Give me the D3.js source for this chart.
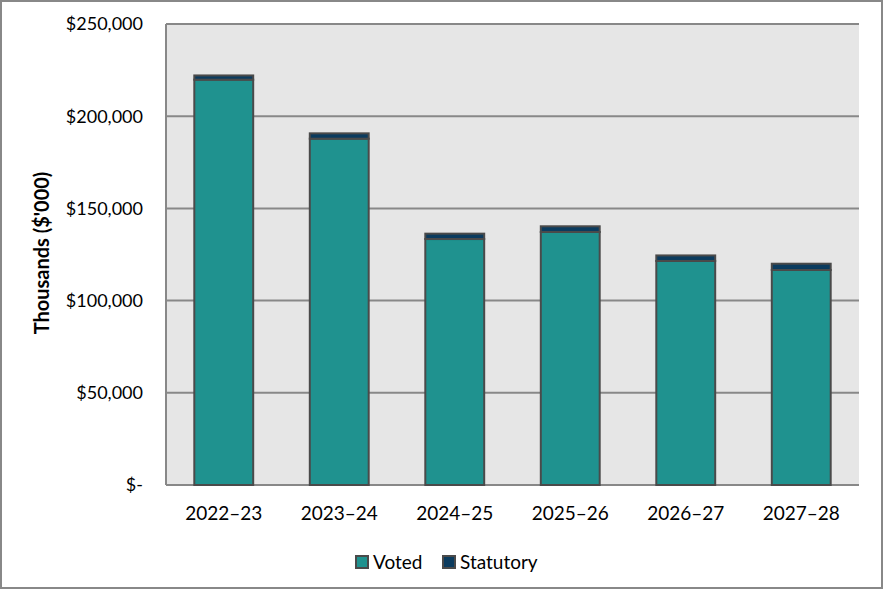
<!DOCTYPE html>
<html>
<head>
<meta charset="utf-8">
<script src="https://cdn.jsdelivr.net/npm/d3@7"></script>
<style>
  body { margin: 0; background: #fff; }
  svg { display: block; font-family: Lato, "Open Sans", sans-serif; }
</style>
</head>
<body>
<script>
// chart data
var years = ["2022–23", "2023–24", "2024–25", "2025–26", "2026–27", "2027–28"];
var voted = [219800, 187800, 133400, 137200, 121500, 116600];
var statutory = [2300, 2900, 2900, 3100, 3000, 3400];
var yTicks = [0, 50000, 100000, 150000, 200000, 250000];
var seriesNames = ["Voted", "Statutory"];
var colors = ["#1f928f", "#0b3b5e"];

var W = 883, H = 589;
var margin = {top: 24, right: 24, bottom: 104, left: 166};
var width = W - margin.left - margin.right,
    height = H - margin.top - margin.bottom;

var svg = d3.select("body").append("svg")
  .attr("width", W)
  .attr("height", H);

// outer frame
svg.append("rect")
  .attr("x", 1).attr("y", 1)
  .attr("width", W - 2).attr("height", H - 2)
  .attr("fill", "#fff")
  .attr("stroke", "#888").attr("stroke-width", 2);

var g = svg.append("g")
  .attr("transform", "translate(" + margin.left + "," + margin.top + ")");

var x = d3.scaleBand().domain(years).range([0, width]).paddingInner(0.49).paddingOuter(0.245);
var y = d3.scaleLinear().domain([0, 250000]).range([height, 0]);

// plot background
g.append("rect")
  .attr("width", width).attr("height", height)
  .attr("fill", "#e6e6e6");

// gridlines
g.selectAll(".grid").data(yTicks).enter().append("line")
  .attr("x1", 0).attr("x2", width)
  .attr("y1", function(d) { return y(d); })
  .attr("y2", function(d) { return y(d); })
  .attr("stroke", "#888").attr("stroke-width", 2);

// left axis line
g.append("line")
  .attr("x1", 0).attr("x2", 0).attr("y1", 0).attr("y2", height)
  .attr("stroke", "#888").attr("stroke-width", 2);

// stacked bars
var rows = years.map(function(yr, i) { return {year: yr, Voted: voted[i], Statutory: statutory[i]}; });
var stack = d3.stack().keys(seriesNames)(rows);

g.selectAll(".series").data(stack).enter().append("g")
  .attr("fill", function(d, i) { return colors[i]; })
  .selectAll("rect").data(function(d) { return d; }).enter().append("rect")
  .attr("x", function(d) { return x(d.data.year); })
  .attr("width", x.bandwidth())
  .attr("y", function(d) { return y(d[1]); })
  .attr("height", function(d) { return y(d[0]) - y(d[1]); })
  .attr("stroke", "#4a4a4a").attr("stroke-width", 2);

// y axis labels
g.selectAll(".ylab").data(yTicks).enter().append("text")
  .attr("x", -23)
  .attr("y", function(d) { return y(d); })
  .attr("dy", "0.35em")
  .attr("text-anchor", "end")
  .attr("font-size", 18)
  .attr("fill", "#000")
  .text(function(d) { return d === 0 ? "$-" : "$" + d3.format(",")(d); });

// x axis labels
g.selectAll(".xlab").data(years).enter().append("text")
  .attr("x", function(d) { return x(d) + x.bandwidth() / 2; })
  .attr("y", height + 35)
  .attr("text-anchor", "middle")
  .attr("font-size", 19)
  .attr("fill", "#000")
  .text(function(d) { return d; });

// y title
svg.append("text")
  .attr("transform", "translate(49,253) rotate(-90)")
  .attr("text-anchor", "middle")
  .attr("font-size", 20)
  .attr("font-weight", "bold")
  .attr("fill", "#000")
  .text("Thousands ($'000)");

// legend
var legX = [356, 443];
var leg = svg.selectAll(".leg").data(seriesNames).enter().append("g")
  .attr("transform", function(d, i) { return "translate(" + legX[i] + ",556)"; });
leg.append("rect")
  .attr("width", 12).attr("height", 12)
  .attr("fill", function(d, i) { return colors[i]; })
  .attr("stroke", "#4a4a4a").attr("stroke-width", 2);
leg.append("text")
  .attr("x", 17).attr("y", 6).attr("dy", "0.35em")
  .attr("font-size", 19)
  .attr("fill", "#000")
  .text(function(d) { return d; });
</script>
</body>
</html>
